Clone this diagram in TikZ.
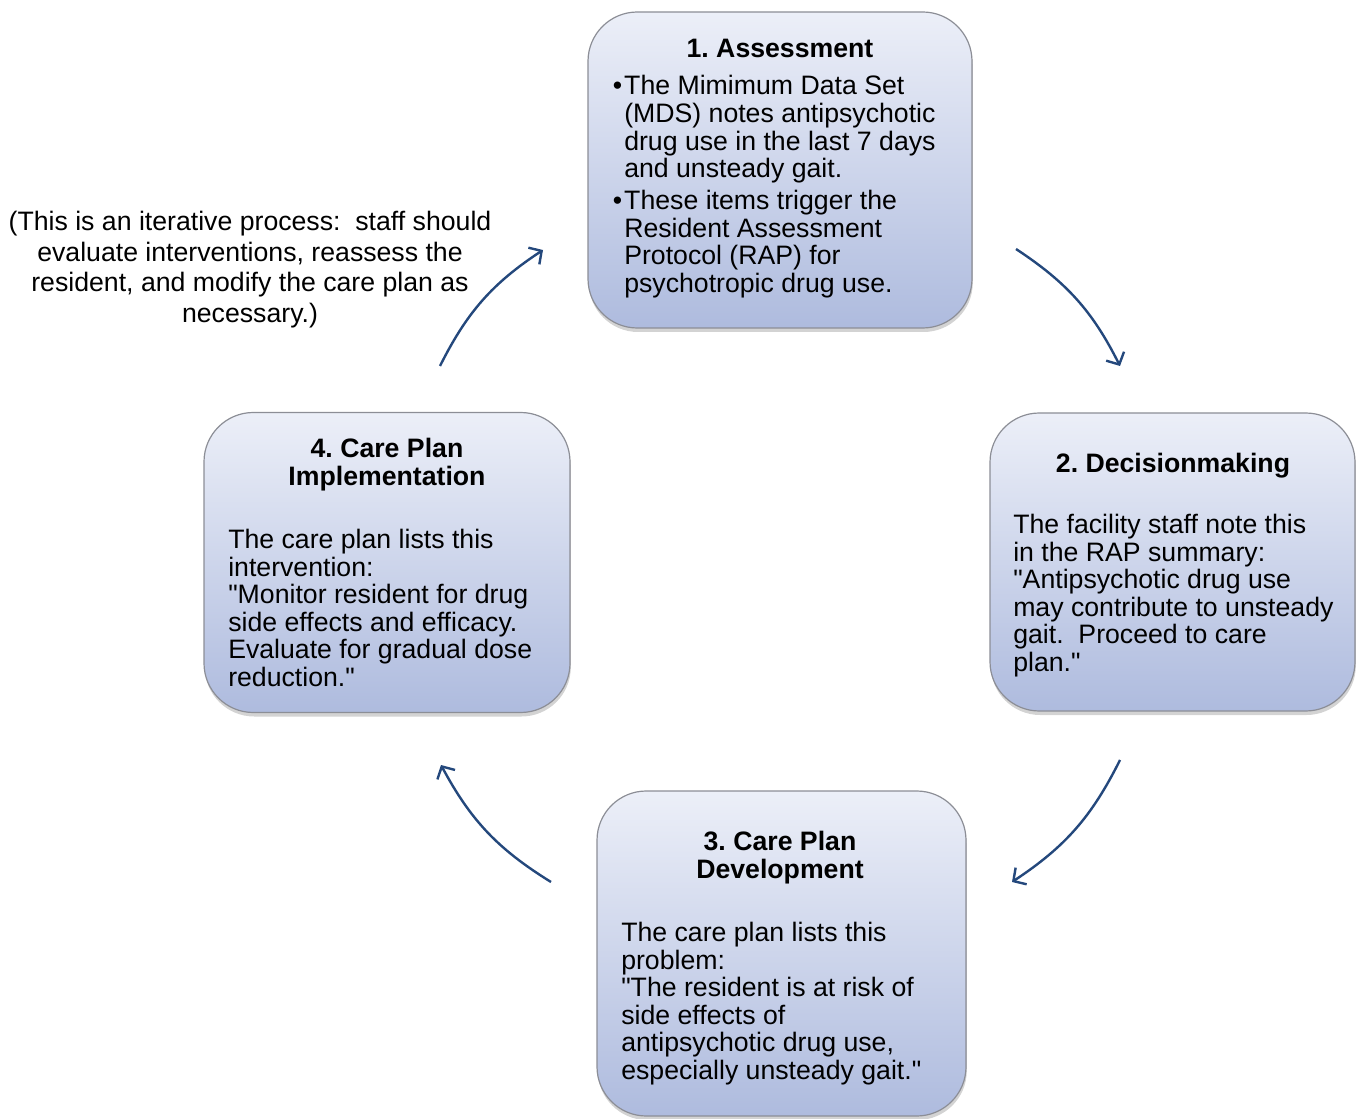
\documentclass[tikz,border=0pt]{standalone}
\usepackage{fontspec}
\setmainfont{Liberation Sans}[Ligatures=TeXOff]
\usetikzlibrary{shadows,arrows.meta}
\definecolor{boxtop}{RGB}{236,239,248}
\definecolor{boxbottom}{RGB}{174,187,222}
\definecolor{boxline}{RGB}{140,142,150}
\definecolor{cycleblue}{RGB}{36,72,124}
\newcommand\carefont{\fontsize{20pt}{20.7pt}\selectfont}
\newcommand\carebullet{\llap{\textbullet\hspace{1.5pt}}}
\frenchspacing

\begin{document}
\begin{tikzpicture}[x=0.75pt, y=-0.75pt,
    carebox/.style={draw=boxline, line width=0.9pt, rounded corners=37pt,
        top color=boxtop, bottom color=boxbottom, inner sep=0pt,
        drop shadow={shadow xshift=0.6pt, shadow yshift=-3pt, opacity=0.35}},
    boxtitle/.style={anchor=base, inner sep=0pt},
    boxbody/.style={anchor=base west, inner sep=0pt},
    cyclearrow/.style={draw=cycleblue, line width=1.8pt,
        -{Straight Barb[length=7pt, width=15pt, line width=1.8pt]}}]
\useasboundingbox (0,0) rectangle (1356,1119);

% Boxes
\node[carebox, minimum width=384*0.75pt, minimum height=316*0.75pt] (assess) at (780,170) {};
\node[carebox, minimum width=365*0.75pt, minimum height=298*0.75pt] (decide) at (1172.5,562) {};
\node[carebox, minimum width=369*0.75pt, minimum height=325*0.75pt] (develop) at (781.5,953.5) {};
\node[carebox, minimum width=366*0.75pt, minimum height=300*0.75pt] (implement) at (387,562.5) {};

% Titles
\node[boxtitle] (assesstitle) at (780,57.5)
    {\parbox[t]{300pt}{\centering\carefont\bfseries 1. Assessment}};
\node[boxtitle] (decidetitle) at (1173,472.5)
    {\parbox[t]{300pt}{\centering\carefont\bfseries 2. Decisionmaking}};
\node[boxtitle] (developtitle) at (780,850.5)
    {\parbox[t]{300pt}{\centering\fontsize{20pt}{21pt}\selectfont\bfseries 3. Care Plan\\Development}};
\node[boxtitle] (implementtitle) at (387,457.5)
    {\parbox[t]{300pt}{\centering\fontsize{20pt}{21pt}\selectfont\bfseries 4. Care Plan\\Implementation}};

% Texts
\node[boxbody] (assesstext) at (624,95)
    {\parbox[t]{300pt}{\carefont\leavevmode\carebullet The Mimimum Data Set\\
    (MDS) notes antipsychotic\\drug use in the last 7 days\\and unsteady gait.\\[3.3pt]
    \carebullet These items trigger the\\Resident Assessment\\
    Protocol (RAP) for\\psychotropic drug use.}};
\node[boxbody] (decidetext) at (1013,533.5)
    {\parbox[t]{300pt}{\carefont The facility staff note this\\in the RAP summary:\\
    "Antipsychotic drug use\\may contribute to unsteady\\gait.~ Proceed to care\\plan."}};
\node[boxbody] (developtext) at (621,941.5)
    {\parbox[t]{300pt}{\carefont The care plan lists this\\problem:\\
    "The resident is at risk of\\side effects of\\antipsychotic drug use,\\especially unsteady gait."}};
\node[boxbody] (implementtext) at (228,548.5)
    {\parbox[t]{300pt}{\carefont The care plan lists this\\intervention:\\
    "Monitor resident for drug\\side effects and efficacy.\\Evaluate for gradual dose\\reduction."}};

% Note
\node[boxtitle] (note) at (250,230.5)
    {\parbox[t]{400pt}{\centering\fontsize{20pt}{23pt}\selectfont
    (This is an iterative process:~ staff should\\evaluate interventions, reassess the\\
    resident, and modify the care plan as\\necessary.)}};

% Cycle arrows
\coordinate (a1) at (1016,249);  \coordinate (b1) at (1120,366);
\coordinate (a2) at (1120,760);  \coordinate (b2) at (1012,882);
\coordinate (a3) at (551,882);   \coordinate (b3) at (441,765);
\coordinate (a4) at (440,366);   \coordinate (b4) at (543,250);
\foreach \i in {1,...,4} {
    \draw[cyclearrow] (a\i) to[bend left=15] (b\i);
}
\end{tikzpicture}
\end{document}
